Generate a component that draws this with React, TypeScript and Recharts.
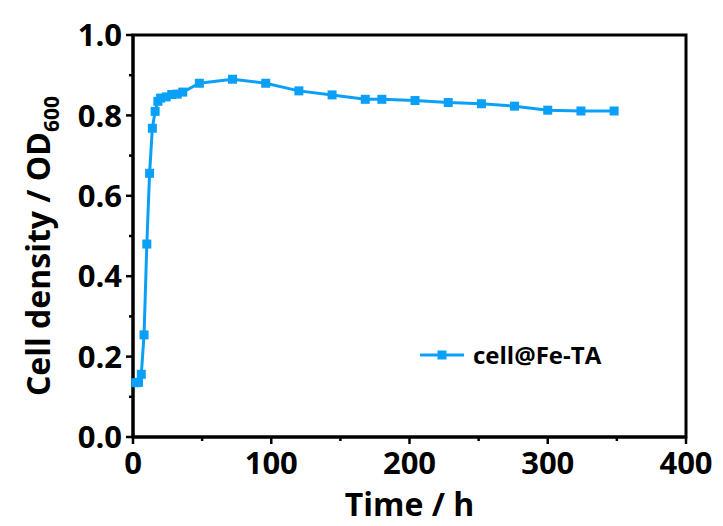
import React from 'react';
import { LineChart, Line, XAxis, YAxis, ReferenceArea } from 'recharts';

// time points (h) and OD600 readings
const hours = [2, 4, 6, 8, 10, 12, 14, 16, 18, 20, 24, 28, 32, 36, 48, 72, 96, 120, 144, 168, 180, 204, 228, 252, 276, 300, 324, 348];
const od600 = [0.135, 0.136, 0.156, 0.254, 0.48, 0.656, 0.768, 0.81, 0.835, 0.843, 0.846, 0.852, 0.853, 0.858, 0.88, 0.89, 0.88, 0.861, 0.851, 0.84, 0.84, 0.837, 0.832, 0.829, 0.823, 0.813, 0.811, 0.811];

const xTicks = [0, 50, 100, 150, 200, 250, 300, 350, 400];
const yTicks = [0, 0.1, 0.2, 0.3, 0.4, 0.5, 0.6, 0.7, 0.8, 0.9, 1.0];

const seriesName = 'cell@Fe-TA';
const COLOR = '#0AA0F8';
const FONT = '"Open Sans", "Noto Sans", sans-serif';

const data = hours.map((h, i) => ({ time: h, od: od600[i] }));

const SquareDot = (props: any) => {
  const { cx, cy } = props;
  if (cx == null || cy == null) return null;
  return <rect x={cx - 4.5} y={cy - 4.5} width={9} height={9} fill={COLOR} />;
};

const YTick = (props: any) => {
  const { x, y, payload } = props;
  const v = payload.value;
  const major = Math.round(v * 10) % 2 === 0;
  return (
    <g>
      <line x1={x} x2={x - (major ? 7 : 4)} y1={y} y2={y} stroke="#000" strokeWidth={2.5} />
      {major && (
        <text x={x - 11} y={y} dy="0.36em" textAnchor="end" fontSize={31} fontWeight={700} fontFamily={FONT} fill="#000">
          {v.toFixed(1)}
        </text>
      )}
    </g>
  );
};

const XTick = (props: any) => {
  const { x, y, payload } = props;
  const v = payload.value;
  const major = v % 100 === 0;
  return (
    <g>
      <line x1={x} x2={x} y1={y} y2={y + (major ? 7 : 4)} stroke="#000" strokeWidth={2.5} />
      {major && (
        <text x={x} y={y + 9} dy="0.9em" textAnchor="middle" fontSize={31} fontWeight={700} fontFamily={FONT} fill="#000">
          {v}
        </text>
      )}
    </g>
  );
};

const YTitle = (props: any) => {
  const { viewBox } = props;
  const cx = viewBox.x + 38;
  const cy = viewBox.y + viewBox.height / 2 + 10;
  return (
    <text
      x={cx}
      y={cy}
      transform={`rotate(-90 ${cx} ${cy})`}
      textAnchor="middle"
      dy="0.36em"
      fontSize={32}
      fontWeight={700}
      fontFamily={FONT}
      fill="#000"
    >
      Cell density / OD
      <tspan fontSize={21} dy="9">600</tspan>
    </text>
  );
};

const XTitle = (props: any) => {
  const { viewBox } = props;
  const cx = viewBox.x + viewBox.width / 2;
  const cy = viewBox.y + 67;
  return (
    <text x={cx} y={cy} textAnchor="middle" dy="0.36em" fontSize={32} fontWeight={700} fontFamily={FONT} fill="#000">
      Time / h
    </text>
  );
};

export default function App() {
  return (
    <div style={{ position: 'absolute', left: 0, top: 0, width: 723, height: 526, background: '#fff' }}>
      <LineChart width={723} height={526} data={data} margin={{ top: 35, right: 37, bottom: 0, left: 0 }}>
        <XAxis
          dataKey="time"
          type="number"
          domain={[0, 400]}
          ticks={xTicks}
          interval={0}
          height={89}
          tickSize={0}
          tickMargin={0}
          tickLine={false}
          tick={<XTick />}
          axisLine={{ stroke: '#000', strokeWidth: 3 }}
          label={{ content: <XTitle /> }}
        />
        <YAxis
          type="number"
          domain={[0, 1]}
          ticks={yTicks}
          interval={0}
          width={133}
          tickSize={0}
          tickMargin={0}
          tickLine={false}
          tick={<YTick />}
          axisLine={{ stroke: '#000', strokeWidth: 3 }}
          label={{ content: <YTitle /> }}
        />
        <ReferenceArea x1={0} x2={400} y1={0} y2={1} fill="none" fillOpacity={0} stroke="#000" strokeWidth={3} ifOverflow="visible" />
        <Line
          type="linear"
          dataKey="od"
          name={seriesName}
          stroke={COLOR}
          strokeWidth={3}
          dot={<SquareDot />}
          activeDot={false}
          isAnimationActive={false}
        />
      </LineChart>
      <div
        style={{
          position: 'absolute',
          left: 420,
          top: 338,
          display: 'flex',
          alignItems: 'center',
          fontFamily: FONT,
          fontWeight: 700,
          fontSize: 24,
          color: '#000',
        }}
      >
        <svg width={44} height={12}>
          <line x1={0} x2={44} y1={6} y2={6} stroke={COLOR} strokeWidth={3} />
          <rect x={17.5} y={1.5} width={9} height={9} fill={COLOR} />
        </svg>
        <span style={{ marginLeft: 9 }}>{seriesName}</span>
      </div>
    </div>
  );
}
